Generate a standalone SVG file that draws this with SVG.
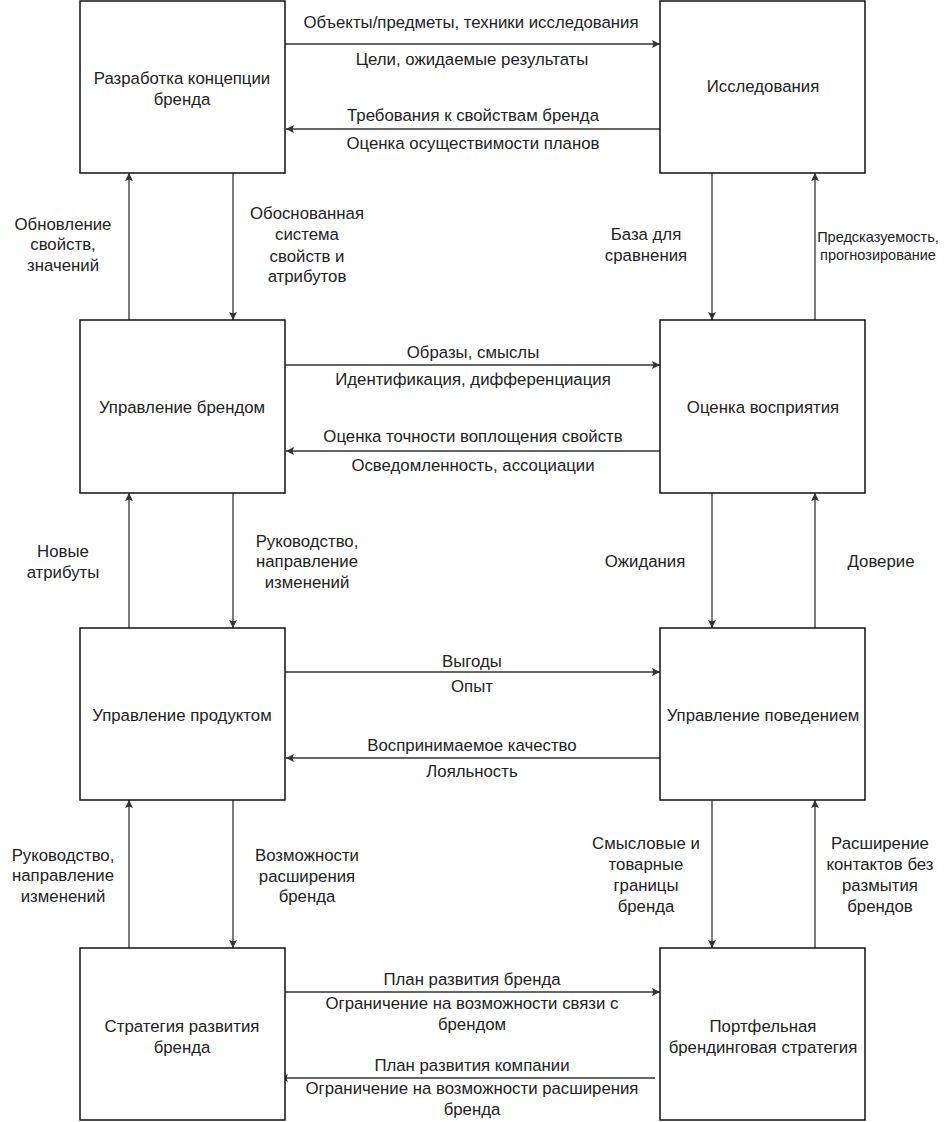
<svg xmlns="http://www.w3.org/2000/svg" width="945" height="1122" viewBox="0 0 945 1122">
<style>
.box{fill:#fff;stroke:#111;stroke-width:1.5}
.c{stroke:#333;stroke-width:1.3;fill:none;marker-end:url(#ah)}
text{font-family:"Liberation Sans",Arial,sans-serif;font-size:16.8px;fill:#222;text-anchor:middle}
.s{font-size:14.5px}
</style>
<defs>
<marker id="ah" viewBox="0 0 10 10" refX="10" refY="5" markerWidth="8" markerHeight="8" markerUnits="userSpaceOnUse" orient="auto">
<path d="M0,0 L10,5 L0,10 L2,5 Z" fill="#333"/>
</marker>
</defs>
<rect width="945" height="1122" fill="#fff"/>
<g id="connectors">
<line class="c" x1="285" y1="44" x2="660" y2="44"/>
<line class="c" x1="660" y1="129" x2="286" y2="129"/>
<line class="c" x1="285" y1="365" x2="660" y2="365"/>
<line class="c" x1="660" y1="451" x2="286" y2="451"/>
<line class="c" x1="285" y1="672" x2="660" y2="672"/>
<line class="c" x1="660" y1="758" x2="286" y2="758"/>
<line class="c" x1="285" y1="992" x2="660" y2="992"/>
<line class="c" x1="655" y1="1078" x2="280" y2="1078"/>
<line class="c" x1="129" y1="320" x2="129" y2="173"/>
<line class="c" x1="233" y1="173" x2="233" y2="320"/>
<line class="c" x1="712" y1="173" x2="712" y2="320"/>
<line class="c" x1="815" y1="320" x2="815" y2="173"/>
<line class="c" x1="129" y1="628" x2="129" y2="493"/>
<line class="c" x1="233" y1="493" x2="233" y2="628"/>
<line class="c" x1="712" y1="493" x2="712" y2="628"/>
<line class="c" x1="815" y1="628" x2="815" y2="493"/>
<line class="c" x1="129" y1="948" x2="129" y2="800"/>
<line class="c" x1="233" y1="800" x2="233" y2="948"/>
<line class="c" x1="712" y1="800" x2="712" y2="948"/>
<line class="c" x1="815" y1="948" x2="815" y2="800"/>
</g>
<g id="labels">
<text x="471" y="28">Объекты/предметы, техники исследования</text>
<text x="472" y="65">Цели, ожидаемые результаты</text>
<text x="473" y="121">Требования к свойствам бренда</text>
<text x="473" y="149">Оценка осуществимости планов</text>
<text x="63" y="230">Обновление</text>
<text x="63" y="250">свойств,</text>
<text x="63" y="271">значений</text>
<text x="307" y="219">Обоснованная</text>
<text x="307" y="240">система</text>
<text x="307" y="262">свойств и</text>
<text x="307" y="282">атрибутов</text>
<text x="646" y="240">База для</text>
<text x="646" y="261">сравнения</text>
<text class="s" x="878" y="242">Предсказуемость,</text>
<text class="s" x="878" y="260">прогнозирование</text>
<text x="473" y="358">Образы, смыслы</text>
<text x="473" y="385">Идентификация, дифференциация</text>
<text x="473" y="442">Оценка точности воплощения свойств</text>
<text x="473" y="471">Осведомленность, ассоциации</text>
<text x="63" y="557">Новые</text>
<text x="63" y="578">атрибуты</text>
<text x="307" y="547">Руководство,</text>
<text x="307" y="567">направление</text>
<text x="307" y="588">изменений</text>
<text x="645" y="567">Ожидания</text>
<text x="881" y="567">Доверие</text>
<text x="472" y="667">Выгоды</text>
<text x="472" y="692">Опыт</text>
<text x="472" y="751">Воспринимаемое качество</text>
<text x="472" y="777">Лояльность</text>
<text x="63" y="861">Руководство,</text>
<text x="63" y="881">направление</text>
<text x="63" y="902">изменений</text>
<text x="307" y="861">Возможности</text>
<text x="307" y="882">расширения</text>
<text x="307" y="902">бренда</text>
<text x="646" y="849">Смысловые и</text>
<text x="646" y="870">товарные</text>
<text x="646" y="891">границы</text>
<text x="646" y="912">бренда</text>
<text x="880" y="849">Расширение</text>
<text x="880" y="870">контактов без</text>
<text x="880" y="891">размытия</text>
<text x="880" y="912">брендов</text>
<text x="472" y="985">План развития бренда</text>
<text x="472" y="1009">Ограничение на возможности связи с</text>
<text x="472" y="1030">брендом</text>
<text x="472" y="1071">План развития компании</text>
<text x="472" y="1094">Ограничение на возможности расширения</text>
<text x="472" y="1115">бренда</text>
</g>
<g id="n1"><rect class="box" x="80" y="1" width="205" height="172"/><text x="182" y="84">Разработка концепции</text><text x="182" y="105">бренда</text></g>
<g id="n2"><rect class="box" x="660" y="1" width="205" height="172"/><text x="763" y="92">Исследования</text></g>
<g id="n3"><rect class="box" x="80" y="320" width="205" height="173"/><text x="182" y="413">Управление брендом</text></g>
<g id="n4"><rect class="box" x="660" y="320" width="205" height="173"/><text x="763" y="413">Оценка восприятия</text></g>
<g id="n5"><rect class="box" x="80" y="628" width="205" height="172"/><text x="182" y="721">Управление продуктом</text></g>
<g id="n6"><rect class="box" x="660" y="628" width="205" height="172"/><text x="763" y="721">Управление поведением</text></g>
<g id="n7"><rect class="box" x="80" y="948" width="205" height="172"/><text x="182" y="1032">Стратегия развития</text><text x="182" y="1053">бренда</text></g>
<g id="n8"><rect class="box" x="660" y="948" width="205" height="172"/><text x="763" y="1032">Портфельная</text><text x="763" y="1053">брендинговая стратегия</text></g>
</svg>
